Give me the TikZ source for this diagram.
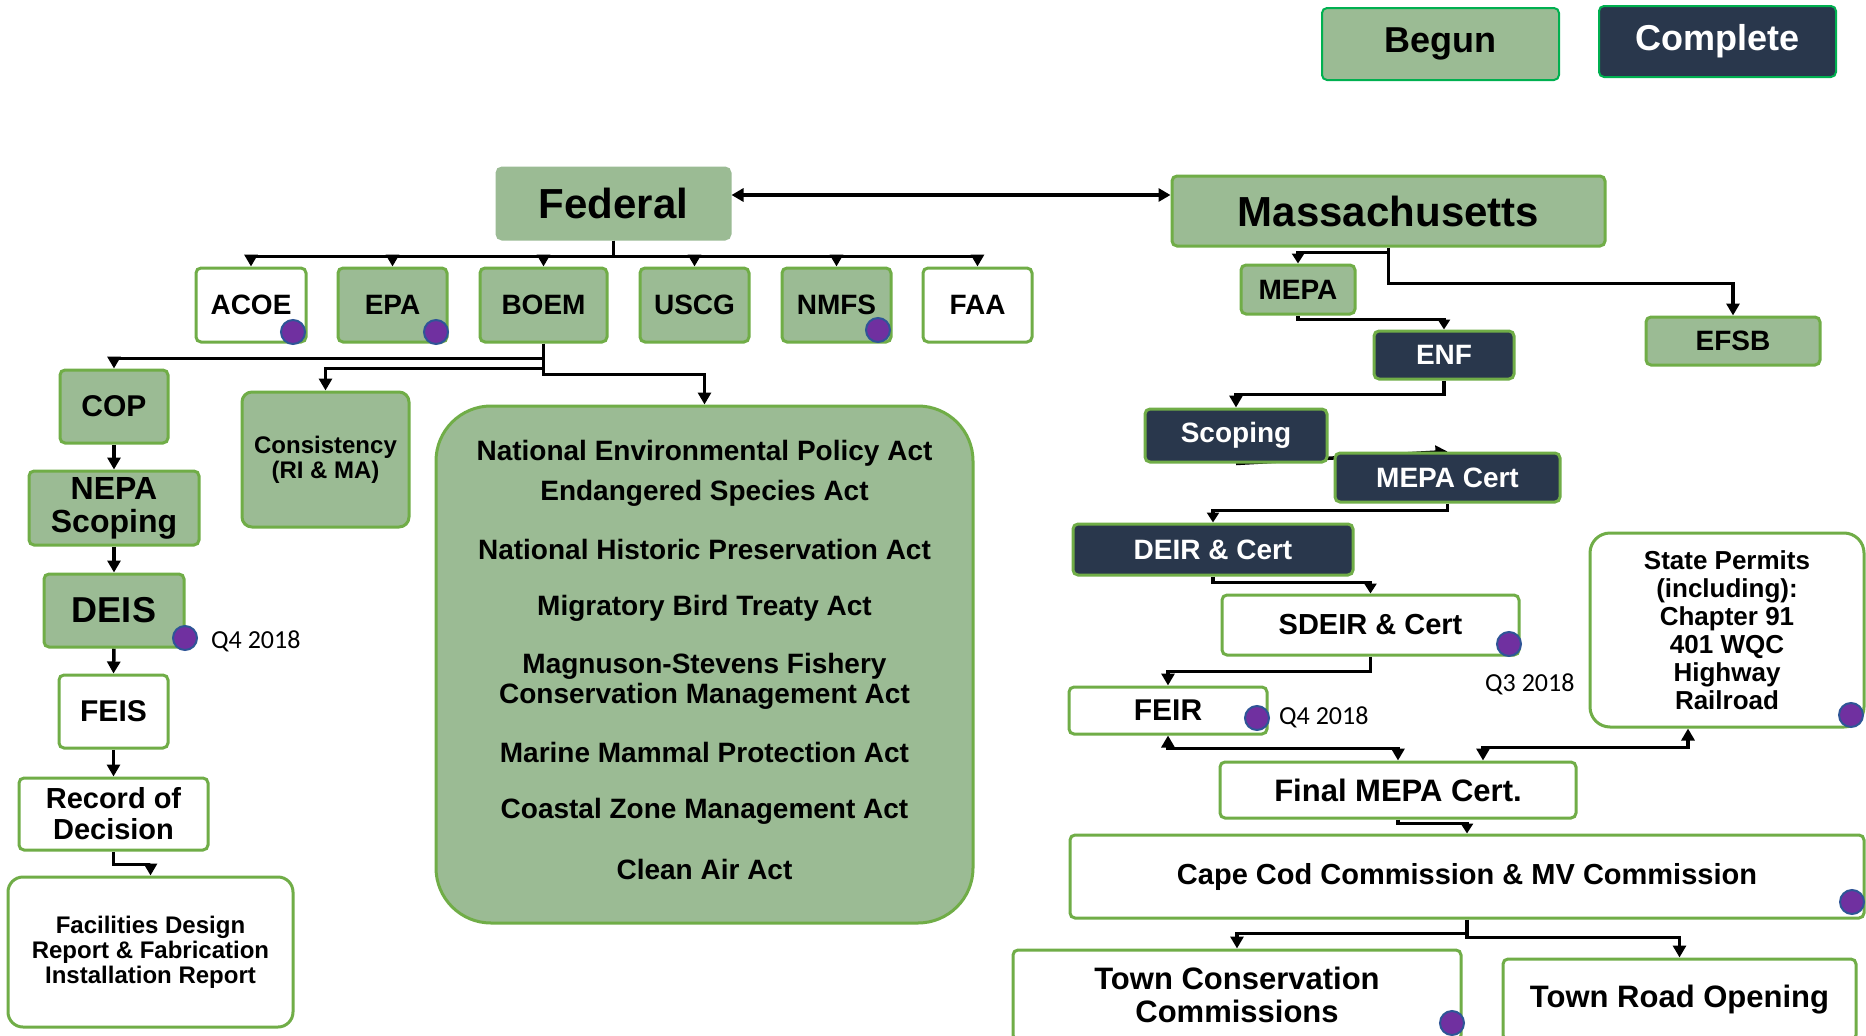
\documentclass[tikz,border=0pt]{standalone}
\usepackage{fontspec}
\setmainfont{Liberation Sans}
\newfontfamily\qfont{Carlito}
\usetikzlibrary{arrows.meta,backgrounds}
\definecolor{sage}{HTML}{9BBB94}
\definecolor{navy}{HTML}{29374C}
\definecolor{bgreen}{HTML}{70AD47}
\definecolor{lgreen}{HTML}{00B050}
\definecolor{dotfill}{HTML}{7030A0}
\definecolor{dotline}{HTML}{2F5597}
\newcommand{\fsz}[2]{\fontsize{#1pt}{#2pt}\selectfont}
\begin{document}
\begin{tikzpicture}[x=1pt,y=-1pt,
  stbox/.style={rectangle, rounded corners=5pt, draw=bgreen, line width=3pt, inner sep=0pt, align=center},
  beg/.style={stbox, fill=sage},
  comp/.style={stbox, fill=navy, text=white},
  wbox/.style={stbox, fill=white},
  arr/.style={line width=3.5pt, -{Triangle[length=12pt,width=13pt]}},
  arrs/.style={line width=3.5pt, -{Triangle[length=10pt,width=12pt]}},
  arrb/.style={line width=3.5pt, {Triangle[length=12pt,width=13pt]}-{Triangle[length=12pt,width=13pt]}},
  pdot/.style={circle, fill=dotfill, draw=dotline, line width=2pt, minimum size=24pt, inner sep=0pt},
  qlab/.style={font=\qfont\fsz{26}{30}, inner sep=0pt, anchor=west},
  actxt/.style={font=\bfseries\fsz{28}{30}, align=center, inner sep=0pt},
]
\useasboundingbox (0,0) rectangle (1866,1036);

% legend
\node[stbox, fill=sage, draw=lgreen, line width=2pt, minimum width=237pt, minimum height=72pt, font=\bfseries\fsz{36}{40}] (begun) at (1440.5,44) {Begun};
\node[stbox, fill=navy, text=white, draw=lgreen, line width=2pt, minimum width=237pt, minimum height=71pt, font=\bfseries\fsz{36}{40}] (complete) at (1717.5,41.5) {Complete};

% federal
\node[beg, draw=sage, minimum width=233pt, minimum height=71pt, font=\bfseries\fsz{42}{46}] (fed) at (613.5,203.5) {Federal};
\node[beg, minimum width=433pt, minimum height=70pt, font=\bfseries\fsz{42}{46}] (mass) at (1388.5,211) {Massachusetts};

\node[wbox, minimum width=110pt, minimum height=74pt, font=\bfseries\fsz{28}{31}] (acoe) at (251,305) {ACOE};
\node[beg, minimum width=109pt, minimum height=74pt, font=\bfseries\fsz{28}{31}] (epa) at (392.5,305) {EPA};
\node[beg, minimum width=127pt, minimum height=74pt, font=\bfseries\fsz{28}{31}] (boem) at (543.5,305) {BOEM};
\node[beg, minimum width=109pt, minimum height=74pt, font=\bfseries\fsz{28}{31}] (uscg) at (694.5,305) {USCG};
\node[beg, minimum width=109pt, minimum height=74pt, font=\bfseries\fsz{28}{31}] (nmfs) at (836.5,305) {NMFS};
\node[wbox, minimum width=109pt, minimum height=74pt, font=\bfseries\fsz{28}{31}] (faa) at (977.5,305) {FAA};

% left column
\node[beg, minimum width=108pt, minimum height=73pt, font=\bfseries\fsz{30}{33}] (cop) at (114,406.5) {COP};
\node[beg, minimum width=170pt, minimum height=74pt, font=\bfseries\fsz{32}{33}] (nepa) at (114,508) {NEPA\\Scoping};
\node[beg, minimum width=140pt, minimum height=73pt, font=\bfseries\fsz{36}{40}] (deis) at (114,610.5) {DEIS};
\node[wbox, minimum width=109pt, minimum height=73pt, font=\bfseries\fsz{30}{33}] (feis) at (113.5,711.5) {FEIS};
\node[wbox, minimum width=189pt, minimum height=72pt, font=\bfseries\fsz{29}{31}] (rec) at (113.5,814) {Record of\\Decision};
\node[wbox, rounded corners=15pt, minimum width=285pt, minimum height=150pt, font=\bfseries\fsz{24}{25}] (fac) at (150.5,952) {Facilities Design\\Report \& Fabrication\\Installation Report};

\node[beg, rounded corners=10pt, minimum width=167pt, minimum height=135pt, font=\bfseries\fsz{24}{25}] (cons) at (325.5,459.5) {Consistency\\(RI \& MA)};

% acts box
\node[beg, rounded corners=55pt, minimum width=537pt, minimum height=517pt] (acts) at (704.5,664.5) {};
\node[actxt] (act1) at (704.5,453) {National Environmental Policy Act};
\node[actxt] (act2) at (704.5,493) {Endangered Species Act};
\node[actxt] (act3) at (704.5,549) {National Historic Preservation Act};
\node[actxt] (act4) at (704.5,608) {Migratory Bird Treaty Act};
\node[actxt] (act5) at (704.5,681) {Magnuson-Stevens Fishery\\Conservation Management Act};
\node[actxt] (act6) at (704.5,752) {Marine Mammal Protection Act};
\node[actxt] (act7) at (704.5,811) {Coastal Zone Management Act};
\node[actxt] (act8) at (704.5,869) {Clean Air Act};

% right side
\node[beg, minimum width=114pt, minimum height=49pt, font=\bfseries\fsz{28}{31}] (mepa) at (1298,289.5) {MEPA};
\node[beg, minimum width=174pt, minimum height=48pt, font=\bfseries\fsz{28}{31}] (efsb) at (1733,341) {EFSB};
\node[comp, minimum width=140pt, minimum height=48pt, font=\bfseries\fsz{28}{31}] (enf) at (1444,355) {ENF};
\node[comp, minimum width=182pt, minimum height=53pt, font=\bfseries\fsz{28}{31}] (scop) at (1236,435.5) {Scoping};
\node[comp, minimum width=225pt, minimum height=49pt, font=\bfseries\fsz{28}{31}] (mcert) at (1447.5,477.5) {MEPA Cert};
\node[comp, minimum width=280pt, minimum height=51pt, font=\bfseries\fsz{28}{31}] (deir) at (1213,549.5) {DEIR \& Cert};
\node[wbox, minimum width=297pt, minimum height=60pt, font=\bfseries\fsz{29}{31}] (sdeir) at (1370.5,625) {SDEIR \& Cert};
\node[wbox, minimum width=198pt, minimum height=47pt, font=\bfseries\fsz{30}{33}] (feir) at (1168,710.5) {FEIR};
\node[wbox, rounded corners=20pt, minimum width=274pt, minimum height=194pt, font=\bfseries\fsz{26}{28}] (sp) at (1727,630) {State Permits\\(including):\\Chapter 91\\401 WQC\\Highway\\Railroad};
\node[wbox, minimum width=356pt, minimum height=56pt, font=\bfseries\fsz{31}{34}] (fmepa) at (1398,790) {Final MEPA Cert.};
\node[wbox, minimum width=794pt, minimum height=83pt, font=\bfseries\fsz{29}{32}] (cc) at (1467,876.5) {Cape Cod Commission \& MV Commission};
\node[wbox, minimum width=448pt, minimum height=90pt, font=\bfseries\fsz{31}{33}] (tc) at (1237,995) {Town Conservation\\Commissions};
\node[wbox, minimum width=353pt, minimum height=81pt, font=\bfseries\fsz{31}{34}] (tr) at (1679.5,999.5) {Town Road Opening};

% dates
\node[qlab] (q1) at (211,641) {Q4 2018};
\node[qlab] (q2) at (1485,684) {Q3 2018};
\node[qlab] (q3) at (1279,717) {Q4 2018};

% dots
\node[pdot] (d1) at (293,332) {};
\node[pdot] (d2) at (436,332) {};
\node[pdot] (d3) at (878,330) {};
\node[pdot] (d4) at (185,638) {};
\node[pdot] (d5) at (1509,644) {};
\node[pdot] (d6) at (1257,718) {};
\node[pdot] (d7) at (1851,715) {};
\node[pdot] (d8) at (1852,902) {};
\node[pdot] (d9) at (1452,1023) {};

% connectors
\begin{pgfonlayer}{background}
\fill[white] (0,0) rectangle (1866,1036);
\coordinate (fm) at (0,195);
\draw[arrb] (fed.east |- fm) -- (mass.west |- fm);
\foreach \c in {acoe,epa,boem,uscg,nmfs,faa}
  \draw[arr] (fed.south) -- ++(0,16) -| (\c.north);
\draw[arr] (boem.south) -- ++(0,15) -| (cop.north);
\draw[arr] (boem.south) -- ++(0,25) -| (cons.north);
\draw[arr] (boem.south) -- ++(0,31) -| (acts.north);
\draw[arr] (cop.south) -- (nepa.north);
\draw[arr] (nepa.south) -- (deis.north);
\draw[arr] (deis.south) -- (feis.north);
\draw[arr] (feis.south) -- (rec.north);
\draw[arr] (rec.south) -- ++(0,13) -| (fac.north);

\draw[arrs] (mass.south) -- ++(0,5) -| (mepa.north);
\draw[arr] (mass.south) -- ++(0,36) -| (efsb.north);
\draw[arrs] (mepa.south) -- ++(0,4) -| (enf.north);
\draw[arr] (enf.south) -- ++(0,14) -| (scop.north);
\draw[arr] (scop.south) -- (mcert.north);
\draw[arrs] (mcert.south) -- ++(0,7) -| (deir.north);
\draw[arrs] (deir.south) -- ++(0,6) -| (sdeir.north);
\draw[arr] (sdeir.south) -- ++(0,15) -| (feir.north);
\draw[arrb] (feir.south) -- ++(0,13) -| (fmepa.north);
\draw[arrb] ([xshift=85pt]fmepa.north) -- ++(0,-13) -| ([xshift=-39pt]sp.south);
\draw[arrs] (fmepa.south) -- ++(0,4) -| (cc.north);
\draw[arr] (cc.south) -- ++(0,14) -| (tc.north);
\draw[arr] (cc.south) -- ++(0,18) -| (tr.north);
\end{pgfonlayer}
\end{tikzpicture}
\end{document}
